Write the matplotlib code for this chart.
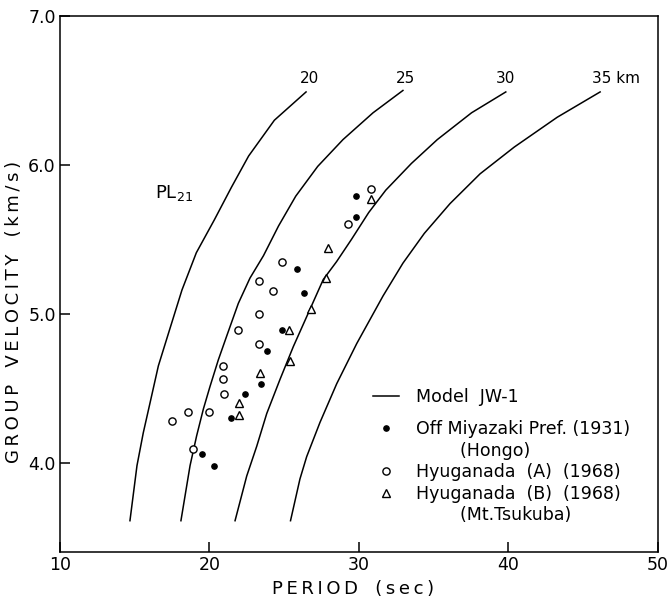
import numpy as np
import matplotlib
matplotlib.use("Agg")
import matplotlib.pyplot as plt
from matplotlib.lines import Line2D

# ===============================
# Data
# ===============================
# Model JW-1 dispersion curves for crustal thickness 20/25/30/35 km
curve20_T = [26.46, 24.34, 22.62, 21.47, 20.32, 19.12, 18.16, 17.26, 16.58, 16.02, 15.57, 15.15, 14.68]
curve20_U = [6.49, 6.30, 6.06, 5.85, 5.63, 5.41, 5.16, 4.87, 4.65, 4.40, 4.20, 3.98, 3.61]

curve25_T = [32.94, 30.94, 28.93, 27.24, 25.77, 24.62, 23.61, 22.71, 21.93, 21.15, 20.59, 20.03, 19.59, 19.14, 18.70, 18.09]
curve25_U = [6.50, 6.35, 6.17, 5.99, 5.79, 5.59, 5.39, 5.24, 5.07, 4.85, 4.69, 4.51, 4.36, 4.18, 3.98, 3.61]

curve30_T = [39.82, 37.53, 35.24, 33.51, 31.79, 30.65, 29.50, 28.50, 27.61, 26.50, 25.61, 24.72, 23.83, 23.16, 22.49, 21.71]
curve30_U = [6.49, 6.35, 6.17, 6.01, 5.83, 5.68, 5.50, 5.35, 5.23, 4.98, 4.78, 4.56, 4.33, 4.11, 3.91, 3.61]

curve35_T = [46.13, 43.26, 40.39, 38.10, 36.09, 34.37, 32.94, 31.61, 29.85, 28.51, 27.39, 26.50, 26.05, 25.42]
curve35_U = [6.49, 6.32, 6.12, 5.94, 5.74, 5.54, 5.34, 5.12, 4.80, 4.53, 4.27, 4.04, 3.89, 3.61]

curve_labels = ["20", "25", "30", "35 km"]
label_T = [26.72, 33.08, 39.77, 45.56]
label_U = [6.58, 6.58, 6.58, 6.58]

# Off Miyazaki Pref. (1931) (Hongo)
hongo_T = [29.79, 29.79, 25.83, 26.32, 24.87, 23.87, 23.42, 22.35, 21.46, 19.48, 20.30]
hongo_U = [5.79, 5.65, 5.30, 5.14, 4.89, 4.75, 4.53, 4.46, 4.30, 4.06, 3.98]

# Hyuganada (A) (1968)
hyugaA_T = [30.82, 29.27, 24.87, 23.33, 24.27, 23.33, 21.89, 23.33, 20.92, 20.92, 20.97, 18.54, 19.99, 17.47, 18.92]
hyugaA_U = [5.84, 5.60, 5.35, 5.22, 5.15, 5.00, 4.89, 4.80, 4.65, 4.56, 4.46, 4.34, 4.34, 4.28, 4.09]

# Hyuganada (B) (1968) (Mt.Tsukuba)
hyugaB_T = [30.82, 27.93, 27.79, 26.77, 25.34, 25.38, 23.38, 21.95, 21.99]
hyugaB_U = [5.77, 5.44, 5.24, 5.03, 4.89, 4.68, 4.60, 4.40, 4.32]

x_ticks = [10, 20, 30, 40, 50]
y_ticks = [4.0, 5.0, 6.0, 7.0]

# ===============================
# Figure
# ===============================
plt.rcParams["font.family"] = ["DejaVu Sans"]
fig = plt.figure(figsize=(6.71, 6.02), dpi=100)
ax = fig.add_axes([0.0894, 0.0831, 0.8912, 0.8903])

for T, U in [(curve20_T, curve20_U), (curve25_T, curve25_U),
             (curve30_T, curve30_U), (curve35_T, curve35_U)]:
    ax.plot(T, U, color="black", lw=1.1, solid_joinstyle="round")

for lab, t, u in zip(curve_labels, label_T, label_U):
    ha = "left" if "km" in lab else "center"
    ax.text(t, u, lab, ha=ha, va="center", fontsize=11)

ax.plot(hongo_T, hongo_U, linestyle="none", marker="o", ms=3.8,
        mfc="black", mec="black")
ax.plot(hyugaA_T, hyugaA_U, linestyle="none", marker="o", ms=5.2,
        mfc="white", mec="black", mew=1.0)
ax.plot(hyugaB_T, hyugaB_U, linestyle="none", marker="^", ms=5.6,
        mfc="white", mec="black", mew=1.0)

ax.text(17.6, 5.81, "PL$_{21}$", ha="center", va="center", fontsize=13)

# ===============================
# Axes
# ===============================
ax.set_xlim(10, 50)
ax.set_ylim(3.4, 7.0)
ax.set_xticks(x_ticks)
ax.set_xticklabels([str(v) for v in x_ticks])
ax.set_yticks(y_ticks)
ax.set_yticklabels(["%.1f" % v for v in y_ticks])
ax.tick_params(direction="in", length=7, width=1.1, labelsize=12.5, pad=3)
for sp in ax.spines.values():
    sp.set_linewidth(1.1)

ts = "\u2009"
ax.set_xlabel(ts.join("PERIOD") + "   " + ts.join("(sec)"), fontsize=13)
ax.xaxis.set_label_coords(0.49, -0.052)
ax.set_ylabel(ts.join("GROUP") + "   " + ts.join("VELOCITY") + "   " + ts.join("(km/s)"),
              fontsize=13)
ax.yaxis.set_label_coords(-0.062, 0.448)

# ===============================
# Legend
# ===============================
leg_fs = 12.5
h_model = Line2D([], [], color="black", lw=1.1)
leg1 = ax.legend([h_model], ["Model  JW-1"], loc="center left",
                 bbox_to_anchor=(0.5234, 0.2897), frameon=False,
                 handlelength=1.5, handletextpad=0.98, borderpad=0,
                 borderaxespad=0, fontsize=leg_fs)
ax.add_artist(leg1)

h_dot = Line2D([], [], linestyle="none", marker="o", ms=3.8, mfc="black", mec="black")
h_circ = Line2D([], [], linestyle="none", marker="o", ms=5.2, mfc="white", mec="black", mew=1.0)
h_tri = Line2D([], [], linestyle="none", marker="^", ms=5.6, mfc="white", mec="black", mew=1.0)
h_blank = Line2D([], [], linestyle="none")
leg_labels = ["Off Miyazaki Pref. (1931)", "        (Hongo)",
              "Hyuganada  (A)  (1968)", "Hyuganada  (B)  (1968)",
              "        (Mt.Tsukuba)"]
ax.legend([h_dot, h_blank, h_circ, h_tri, h_blank], leg_labels,
          loc="center left", bbox_to_anchor=(0.5234, 0.149), frameon=False,
          handlelength=1.5, handletextpad=0.98, borderpad=0, borderaxespad=0,
          labelspacing=0.2, fontsize=leg_fs)

fig.savefig("out.png", dpi=100)
